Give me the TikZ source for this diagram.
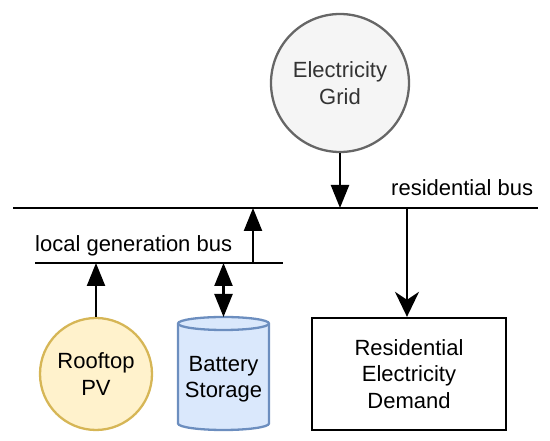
\documentclass[tikz,border=0pt]{standalone}
\usepackage{fontspec}
\setmainfont{Liberation Sans}
\usetikzlibrary{arrows.meta}
\definecolor{gridfill}{HTML}{F5F5F5}
\definecolor{gridline}{HTML}{666666}
\definecolor{pvfill}{HTML}{FFF2CC}
\definecolor{pvline}{HTML}{D6B656}
\definecolor{batfill}{HTML}{DAE8FC}
\definecolor{batline}{HTML}{6C8EBF}
\definecolor{txtgray}{HTML}{333333}
\tikzset{
  x=1pt, y=1pt,
  lbl/.style={font=\fontsize{22}{26.5}\selectfont, align=center, inner sep=0pt},
  busline/.style={line width=2.3pt},
  tipA/.tip={Triangle[length=23pt,width=18pt]},
  flow/.style={line width=2.3pt, -tipA},
  flowboth/.style={line width=2.3pt, tipA-tipA},
  flowdem/.style={line width=2.3pt, -{Stealth[length=25pt,width=24pt,inset=8pt]}},
  circ/.style={circle, line width=2.3pt, minimum size=#1, inner sep=0pt},
  demandbox/.style={rectangle, draw, line width=2.3pt, minimum width=194pt, minimum height=112pt}
}
\begin{document}
\begin{tikzpicture}
\useasboundingbox (0,0) rectangle (550,441);
% buses
\coordinate (rbL) at (13,233);
\coordinate (rbR) at (538,233);
\coordinate (lbL) at (35,178);
\coordinate (lbR) at (283,178);
\draw[busline] (rbL) -- (rbR);
\draw[busline] (lbL) -- (lbR);
\node[lbl, anchor=base west] (rblabel) at (391,245) {residential bus};
\node[lbl, anchor=base west] (lblabel) at (35,189) {local generation bus};
% nodes
\node[circ=138pt, draw=gridline, fill=gridfill, lbl, text=txtgray] (grid) at (340,358) {Electricity\\Grid};
\node[circ=112pt, draw=pvline, fill=pvfill, lbl] (pv) at (96,67) {Rooftop\\PV};
\node[demandbox, lbl] (dem) at (409,67) {Residential\\Electricity\\Demand};
% battery cylinder
\filldraw[fill=batfill, draw=batline, line width=2.3pt]
  (178,117.5) -- (178,17.5) arc[start angle=180, end angle=360, x radius=45.5, y radius=6.5]
  -- (269,117.5) arc[start angle=0, end angle=180, x radius=45.5, y radius=6.5] -- cycle;
\draw[batline, line width=2.3pt] (269,117.5) arc[start angle=0, end angle=-180, x radius=45.5, y radius=6.5];
\node[lbl, minimum width=91pt, minimum height=100pt] (bat) at (223.5,62) {Battery\\Storage};
\coordinate (battop) at (223.5,124);
% connection points
\coordinate (gridin) at (340,233);
\coordinate (demout) at (407,233);
\coordinate (lgup) at (253,178);
\coordinate (lgtop) at (253,233);
\coordinate (pvin) at (96,178);
\coordinate (batin) at (223.5,178);
% connectors
\draw[flow] (grid.south) -- (gridin);
\draw[flowdem] (demout) -- (dem.north -| demout);
\draw[flow] (lgup) -- (lgtop);
\draw[flow] (pv.north) -- (pvin);
\draw[flowboth] (battop) -- (batin);
\end{tikzpicture}
\end{document}
